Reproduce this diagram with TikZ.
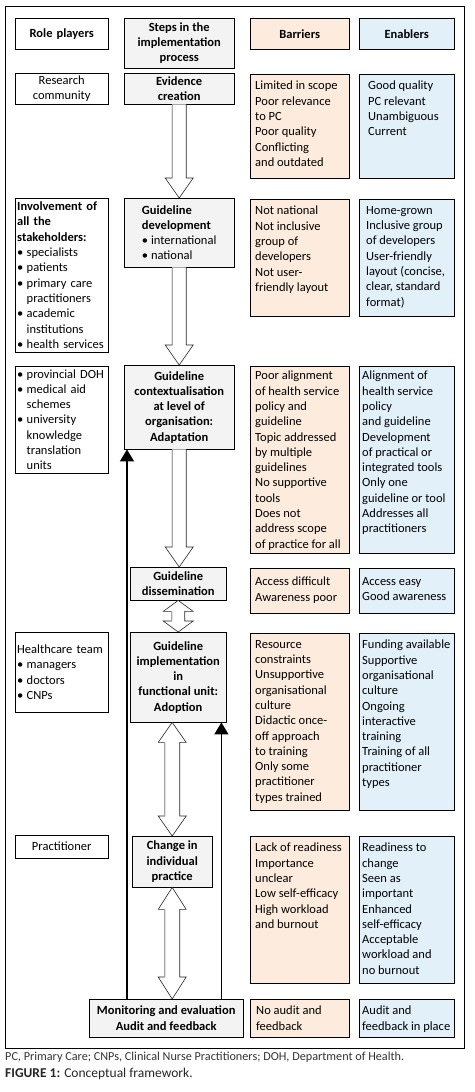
\documentclass[tikz,border=0pt]{standalone}
\usepackage{fontspec}
\setmainfont{Carlito}
\usetikzlibrary{calc,arrows.meta}

\definecolor{barfill}{HTML}{FDEBDD}
\definecolor{enafill}{HTML}{E2F0FA}
\definecolor{stepfill}{HTML}{F3F3F3}

\newcommand{\cellfont}{\fontsize{12.5}{15.3}\selectfont}
\newcommand{\bul}{\makebox[9.5pt][l]{\textbullet}}
\newcommand{\bulskip}{\hspace*{9.5pt}}

% hollow block arrow, tip at #2
\newcommand{\hollowdown}[2]{%
  \draw[hollow] let \p1=(#1), \p2=(#2) in
    (\x1-7pt,\y1) -- (\x1-7pt,\y2+20pt) -- (\x1-14pt,\y2+20pt) -- (\x1,\y2)
    -- (\x1+14pt,\y2+20pt) -- (\x1+7pt,\y2+20pt) -- (\x1+7pt,\y1);
  \draw[hollowshade] let \p1=(#1), \p2=(#2) in
    (\x1-7pt,\y1) -- (\x1-7pt,\y2+20pt);}
% hollow block arrow with two heads: #3 head length, #4 head half width, #5 shaft half width
\newcommand{\hollowboth}[5]{%
  \draw[hollow] let \p1=(#1), \p2=(#2) in
    (\x1-#5,\y1-#3) -- (\x1-#5,\y2+#3) -- (\x1-#4,\y2+#3) -- (\x1,\y2)
    -- (\x1+#4,\y2+#3) -- (\x1+#5,\y2+#3) -- (\x1+#5,\y1-#3)
    -- (\x1+#4,\y1-#3) -- (\x1,\y1) -- (\x1-#4,\y1-#3) -- cycle;
  \draw[hollowshade] let \p1=(#1), \p2=(#2) in
    (\x1-#5,\y1-#3) -- (\x1-#5,\y2+#3);}

\begin{document}
\begin{tikzpicture}[x=1pt, y=-1pt,
  box/.style={draw, anchor=north west, inner sep=2pt, font=\cellfont},
  rolebox/.style={box, minimum width=93pt, text width=89pt, align=left},
  stepbox/.style={box, fill=stepfill, align=center, font=\cellfont\bfseries},
  barbox/.style={box, fill=barfill, minimum width=99pt},
  enabox/.style={box, fill=enafill, minimum width=95pt},
  celltext/.style={anchor=north west, inner sep=3pt, align=left, font=\cellfont},
  hollow/.style={draw=black!85, fill=white, line width=0.6pt},
  hollowshade/.style={draw=black!35, line width=0.7pt},
  feedback/.style={line width=1.4pt, -{Triangle[width=14pt,length=12pt]}}]
\useasboundingbox (0,0) rectangle (474,1092);
\draw[line width=0.8pt] (5,6) rectangle (464,1048);

% headings
\node[rolebox, align=center, minimum height=31pt] (rolehd) at (15,18) {\textbf{Role players}};
\node[stepbox, minimum width=110pt, minimum height=50pt] (stephd) at (124,18) {Steps in the\\implementation\\process};
\node[barbox, minimum height=31pt, font=\cellfont\bfseries] (barhd) at (250,18) {Barriers};
\node[enabox, minimum height=31pt, font=\cellfont\bfseries] (enahd) at (359,18) {Enablers};

% role players
\node[rolebox, align=center, minimum height=31pt] (research) at (15,73) {Research\\community};
\node[rolebox, minimum height=154pt] (involve) at (15,198) {\textbf{Involvement of}\\\textbf{all the}\\\textbf{stakeholders:}\\\bul specialists\\\bul patients\\\bul primary care\\\bulskip practitioners\\\bul academic\\\bulskip institutions\\\bul health services};
\node[rolebox, minimum height=107pt] (provdoh) at (15,366) {\bul provincial DOH\\\bul medical aid\\\bulskip schemes\\\bul university\\\bulskip knowledge\\\bulskip translation\\\bulskip units};
\node[rolebox, minimum height=80pt] (health) at (15,632) {Healthcare team\\\bul managers\\\bul doctors\\\bul CNPs};
\node[rolebox, align=center, minimum height=23pt] (practitioner) at (15,835) {Practitioner};

% steps
\node[stepbox, minimum width=110pt, minimum height=31pt] (evid) at (124,73) {Evidence\\creation};
\node[stepbox, minimum width=110pt, minimum height=69pt, align=left] (gdev) at (124,198) {Guideline\\development\\{\mdseries\textbullet\ international}\\{\mdseries\textbullet\ national}};
\node[stepbox, minimum width=110pt, minimum height=84pt] (context) at (124,365) {Guideline\\contextualisation\\at level of\\organisation:\\Adaptation};
\node[stepbox, minimum width=96pt, minimum height=33pt] (diss) at (130,567) {Guideline\\dissemination};
\node[stepbox, minimum width=96pt, minimum height=90pt] (impl) at (130,632) {Guideline\\implementation\\in\\functional unit:\\Adoption};
\node[stepbox, minimum width=80pt, minimum height=51pt] (change) at (132,836) {Change in\\individual\\practice};
\node[stepbox, minimum width=154pt, minimum height=38pt] (monitor) at (89,999) {Monitoring and evaluation\\Audit and feedback};

% barriers
\node[barbox, minimum height=104pt] (bar1) at (250,74) {};
\node[barbox, minimum height=117pt] (bar2) at (250,199) {};
\node[barbox, minimum height=187pt] (bar3) at (250,366) {};
\node[barbox, minimum height=45pt] (bar4) at (250,568) {};
\node[barbox, minimum height=177pt] (bar5) at (250,633) {};
\node[barbox, minimum height=147pt] (bar6) at (250,836) {};
\node[barbox, minimum height=38pt] (bar7) at (250,999) {};
\node[celltext] (bar1t) at ([xshift=2pt,yshift=-4pt]bar1.north west) {Limited in scope\\Poor relevance\\to PC\\Poor quality\\Conflicting\\and outdated};
\node[celltext] (bar2t) at ([xshift=2pt,yshift=-4pt]bar2.north west) {Not national\\Not inclusive\\group of\\developers\\Not user-\\friendly layout};
\node[celltext] (bar3t) at ([xshift=2pt,yshift=-2pt]bar3.north west) {Poor alignment\\of health service\\policy and\\guideline\\Topic addressed\\by multiple\\guidelines\\No supportive\\tools\\Does not\\address scope\\of practice for all};
\node[celltext] (bar4t) at ([xshift=2pt,yshift=-6pt]bar4.north west) {Access difficult\\Awareness poor};
\node[celltext] (bar5t) at ([xshift=2pt,yshift=-4pt]bar5.north west) {Resource\\constraints\\Unsupportive\\organisational\\culture\\Didactic once-\\off approach\\to training\\Only some\\practitioner\\types trained};
\node[celltext] (bar6t) at ([xshift=2pt,yshift=-4pt]bar6.north west) {Lack of readiness\\Importance\\unclear\\Low self-efficacy\\High workload\\and burnout};
\node[celltext] (bar7t) at ([xshift=3pt,yshift=-4pt]bar7.north west) {No audit and\\feedback};

% enablers
\node[enabox, minimum height=104pt] (ena1) at (359,74) {};
\node[enabox, minimum height=117pt] (ena2) at (359,199) {};
\node[enabox, minimum height=187pt] (ena3) at (359,366) {};
\node[enabox, minimum height=45pt] (ena4) at (359,568) {};
\node[enabox, minimum height=177pt] (ena5) at (359,633) {};
\node[enabox, minimum height=147pt] (ena6) at (359,836) {};
\node[enabox, minimum height=38pt] (ena7) at (359,999) {};
\node[celltext] (ena1t) at ([xshift=6pt,yshift=-4pt]ena1.north west) {Good quality\\PC relevant\\Unambiguous\\Current};
\node[celltext] (ena2t) at ([xshift=4pt,yshift=-4pt]ena2.north west) {Home-grown\\Inclusive group\\of developers\\User-friendly\\layout (concise,\\clear, standard\\format)};
\node[celltext] (ena3t) at ([yshift=-2pt]ena3.north west) {Alignment of\\health service\\policy\\and guideline\\Development\\of practical or\\integrated tools\\Only one\\guideline or tool\\Addresses all\\practitioners};
\node[celltext] (ena4t) at ([yshift=-6pt]ena4.north west) {Access easy\\Good awareness};
\node[celltext] (ena5t) at ([yshift=-4pt]ena5.north west) {Funding available\\Supportive\\organisational\\culture\\Ongoing\\interactive\\training\\Training of all\\practitioner\\types};
\node[celltext] (ena6t) at ([yshift=-4pt]ena6.north west) {Readiness to\\change\\Seen as\\important\\Enhanced\\self-efficacy\\Acceptable\\workload and\\no burnout};
\node[celltext] (ena7t) at ([yshift=-4pt]ena7.north west) {Audit and\\feedback in place};

% hollow arrows between the steps
\hollowdown{evid.south}{gdev.north}
\hollowdown{gdev.south}{context.north}
\hollowdown{context.south}{diss.north}
\hollowboth{diss.south}{impl.north}{11pt}{15pt}{6.5pt}
\hollowboth{change.north |- impl.south}{change.north}{20pt}{14pt}{7.5pt}
\hollowboth{change.south}{change.south |- monitor.north}{22pt}{14pt}{7.5pt}

% feedback lines
\coordinate (fbleft) at ([xshift=3pt]context.south west);
\coordinate (fbright) at ([xshift=-5pt]impl.south east);
\draw[feedback] (fbleft |- monitor.north) -- (fbleft);
\draw[feedback] (fbright |- monitor.north) -- (fbright);

% caption
\node[anchor=west, inner sep=0pt, font=\fontsize{12.2}{14}\selectfont, text=black!80] (notes) at (5,1057) {PC, Primary Care; CNPs, Clinical Nurse Practitioners; DOH, Department of Health.};
\node[anchor=west, inner sep=0pt, font=\fontsize{13.5}{15}\selectfont, text=black!85] (caption) at (5,1074) {\textbf{FIGURE 1:} Conceptual framework.};
\end{tikzpicture}
\end{document}
